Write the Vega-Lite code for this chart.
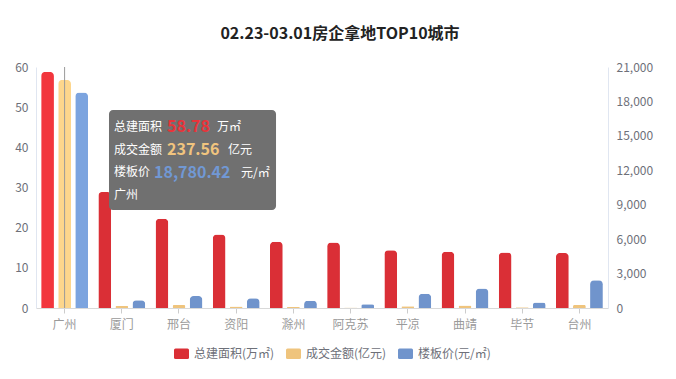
{
  "$schema": "https://vega.github.io/schema/vega-lite/v6.json",
  "width": 572,
  "height": 241,
  "autosize": {"type": "none"},
  "padding": {"left": 36, "top": 67, "right": 68, "bottom": 71},
  "background": "white",
  "title": {"text": "02.23-03.01房企拿地TOP10城市", "fontSize": 16, "fontWeight": "bold", "color": "#222222", "font": "Noto Sans CJK SC", "anchor": "middle", "dx": 18, "offset": 19},
  "config": {"view": {"stroke": null}, "font": "Noto Sans CJK SC"},
  "data": {"values": [
    {"city": "广州", "series": "总建面积(万㎡)", "value": 58.78},
    {"city": "厦门", "series": "总建面积(万㎡)", "value": 28.9},
    {"city": "邢台", "series": "总建面积(万㎡)", "value": 22.2},
    {"city": "资阳", "series": "总建面积(万㎡)", "value": 18.3},
    {"city": "滁州", "series": "总建面积(万㎡)", "value": 16.5},
    {"city": "阿克苏", "series": "总建面积(万㎡)", "value": 16.3},
    {"city": "平凉", "series": "总建面积(万㎡)", "value": 14.4},
    {"city": "曲靖", "series": "总建面积(万㎡)", "value": 14.0},
    {"city": "毕节", "series": "总建面积(万㎡)", "value": 13.8},
    {"city": "台州", "series": "总建面积(万㎡)", "value": 13.7},
    {"city": "广州", "series": "成交金额(亿元)", "value": 237.56},
    {"city": "厦门", "series": "成交金额(亿元)", "value": 2.2},
    {"city": "邢台", "series": "成交金额(亿元)", "value": 3.0},
    {"city": "资阳", "series": "成交金额(亿元)", "value": 1.6},
    {"city": "滁州", "series": "成交金额(亿元)", "value": 1.0},
    {"city": "阿克苏", "series": "成交金额(亿元)", "value": 0.5},
    {"city": "平凉", "series": "成交金额(亿元)", "value": 1.9},
    {"city": "曲靖", "series": "成交金额(亿元)", "value": 2.6},
    {"city": "毕节", "series": "成交金额(亿元)", "value": 0.7},
    {"city": "台州", "series": "成交金额(亿元)", "value": 3.0},
    {"city": "广州", "series": "楼板价(元/㎡)", "value": 18780.42},
    {"city": "厦门", "series": "楼板价(元/㎡)", "value": 670},
    {"city": "邢台", "series": "楼板价(元/㎡)", "value": 1045},
    {"city": "资阳", "series": "楼板价(元/㎡)", "value": 840},
    {"city": "滁州", "series": "楼板价(元/㎡)", "value": 640},
    {"city": "阿克苏", "series": "楼板价(元/㎡)", "value": 320},
    {"city": "平凉", "series": "楼板价(元/㎡)", "value": 1250},
    {"city": "曲靖", "series": "楼板价(元/㎡)", "value": 1710},
    {"city": "毕节", "series": "楼板价(元/㎡)", "value": 470},
    {"city": "台州", "series": "楼板价(元/㎡)", "value": 2410}
  ]},
  "resolve": {"scale": {"y": "independent"}},
  "layer": [
    {
      "transform": [{"filter": "datum.series === '总建面积(万㎡)'"}],
      "mark": {"type": "bar", "cornerRadiusTopLeft": 4, "cornerRadiusTopRight": 4},
      "encoding": {
        "x": {"field": "city", "type": "nominal", "sort": null,
          "scale": {"domain": ["广州", "厦门", "邢台", "资阳", "滁州", "阿克苏", "平凉", "曲靖", "毕节", "台州"], "paddingInner": 0.18, "paddingOuter": 0.09},
          "axis": {"title": null, "labelAngle": 0, "labelColor": "#9a9a9a", "labelFontSize": 12, "tickColor": "#cccccc", "tickSize": 5, "domainColor": "#d9d9d9", "labelPadding": 6}},
        "xOffset": {"field": "series", "type": "nominal", "scale": {"domain": ["总建面积(万㎡)", "成交金额(亿元)", "楼板价(元/㎡)"], "paddingInner": 0.25, "paddingOuter": 0}},
        "y": {"field": "value", "type": "quantitative", "scale": {"domain": [0, 60], "nice": false},
          "axis": {"orient": "left", "title": null, "values": [0, 10, 20, 30, 40, 50, 60], "grid": false, "ticks": false, "domain": true, "domainColor": "#e0e6f1", "labelColor": "#6e7079", "labelFontSize": 12, "labelPadding": 8}},
        "color": {"condition": {"test": "datum.city === '广州'", "value": "#f2363d"}, "field": "series", "type": "nominal",
          "scale": {"domain": ["总建面积(万㎡)", "成交金额(亿元)", "楼板价(元/㎡)"], "range": ["#da2f36", "#efc47d", "#7094cc"]},
          "legend": {"orient": "none", "legendX": 138, "legendY": 279, "direction": "horizontal", "title": null, "padding": 0,
            "symbolType": "M-0.8,-0.7 H0.8 Q1,-0.7 1,-0.5 V0.5 Q1,0.7 0.8,0.7 H-0.8 Q-1,0.7 -1,0.5 V-0.5 Q-1,-0.7 -0.8,-0.7 Z",
            "symbolSize": 225, "symbolStrokeWidth": 0, "labelColor": "#6e7079", "labelFontSize": 12, "labelOffset": 5, "columnPadding": 11}}
      }
    },
    {
      "transform": [{"filter": "datum.series === '成交金额(亿元)'"}],
      "mark": {"type": "bar", "cornerRadiusTopLeft": 4, "cornerRadiusTopRight": 4},
      "encoding": {
        "x": {"field": "city", "type": "nominal", "sort": null,
          "scale": {"domain": ["广州", "厦门", "邢台", "资阳", "滁州", "阿克苏", "平凉", "曲靖", "毕节", "台州"], "paddingInner": 0.18, "paddingOuter": 0.09},
          "axis": {"title": null, "labelAngle": 0, "labelColor": "#9a9a9a", "labelFontSize": 12, "tickColor": "#cccccc", "tickSize": 5, "domainColor": "#d9d9d9", "labelPadding": 6}},
        "xOffset": {"field": "series", "type": "nominal", "scale": {"domain": ["总建面积(万㎡)", "成交金额(亿元)", "楼板价(元/㎡)"], "paddingInner": 0.25, "paddingOuter": 0}},
        "y": {"field": "value", "type": "quantitative", "scale": {"domain": [0, 251], "nice": false}, "axis": null},
        "color": {"condition": {"test": "datum.city === '广州'", "value": "#fdd68c"}, "field": "series", "type": "nominal",
          "scale": {"domain": ["总建面积(万㎡)", "成交金额(亿元)", "楼板价(元/㎡)"], "range": ["#da2f36", "#efc47d", "#7094cc"]}}
      }
    },
    {
      "transform": [{"filter": "datum.series === '楼板价(元/㎡)'"}],
      "mark": {"type": "bar", "cornerRadiusTopLeft": 4, "cornerRadiusTopRight": 4},
      "encoding": {
        "x": {"field": "city", "type": "nominal", "sort": null,
          "scale": {"domain": ["广州", "厦门", "邢台", "资阳", "滁州", "阿克苏", "平凉", "曲靖", "毕节", "台州"], "paddingInner": 0.18, "paddingOuter": 0.09},
          "axis": {"title": null, "labelAngle": 0, "labelColor": "#9a9a9a", "labelFontSize": 12, "tickColor": "#cccccc", "tickSize": 5, "domainColor": "#d9d9d9", "labelPadding": 6}},
        "xOffset": {"field": "series", "type": "nominal", "scale": {"domain": ["总建面积(万㎡)", "成交金额(亿元)", "楼板价(元/㎡)"], "paddingInner": 0.25, "paddingOuter": 0}},
        "y": {"field": "value", "type": "quantitative", "scale": {"domain": [0, 21000], "nice": false},
          "axis": {"orient": "right", "title": null, "values": [0, 3000, 6000, 9000, 12000, 15000, 18000, 21000], "format": ",.0f", "grid": false, "ticks": false, "domain": true, "domainColor": "#e0e6f1", "labelColor": "#6e7079", "labelFontSize": 12, "labelPadding": 8}},
        "color": {"condition": {"test": "datum.city === '广州'", "value": "#7ca4df"}, "field": "series", "type": "nominal",
          "scale": {"domain": ["总建面积(万㎡)", "成交金额(亿元)", "楼板价(元/㎡)"], "range": ["#da2f36", "#efc47d", "#7094cc"]}}
      }
    },
    {
      "transform": [{"filter": "datum.city === '广州' && datum.series === '总建面积(万㎡)'"}],
      "mark": {"type": "rule", "color": "#9a9a9a", "strokeWidth": 1},
      "encoding": {"x": {"datum": "广州", "type": "nominal"}}
    },
    {
      "transform": [{"filter": "datum.city === '广州' && datum.series === '总建面积(万㎡)'"}],
      "mark": {"type": "rect", "color": "#707070", "cornerRadius": 4},
      "encoding": {
        "x": {"datum": "厦门", "type": "nominal", "bandPosition": 0.227},
        "x2": {"datum": "资阳", "bandPosition": 1.349},
        "y": {"datum": 49.3, "type": "quantitative", "scale": {"domain": [0, 60], "nice": false}, "axis": null},
        "y2": {"datum": 24.4}
      }
    },
    {
      "transform": [{"filter": "datum.city === '广州' && datum.series === '总建面积(万㎡)'"}],
      "mark": {"type": "text", "align": "left", "baseline": "middle", "lineBreak": "\n", "lineHeight": 22.5, "fontSize": 12, "color": "#ffffff"},
      "encoding": {
        "x": {"datum": "厦门", "type": "nominal", "bandPosition": 0.334},
        "y": {"datum": 44.94, "type": "quantitative", "scale": {"domain": [0, 60], "nice": false}, "axis": null},
        "text": {"value": "总建面积\n成交金额\n楼板价\n广州"}
      }
    },
    {
      "transform": [{"filter": "datum.city === '广州' && datum.series === '总建面积(万㎡)'"}],
      "mark": {"type": "text", "align": "left", "baseline": "middle", "fontSize": 16, "fontWeight": "bold", "color": "#e8343a", "dx": 53},
      "encoding": {
        "x": {"datum": "厦门", "type": "nominal", "bandPosition": 0.334},
        "y": {"datum": 44.94, "type": "quantitative", "scale": {"domain": [0, 60], "nice": false}, "axis": null},
        "text": {"field": "value", "type": "quantitative", "format": ".2f"}
      }
    },
    {
      "transform": [{"filter": "datum.city === '广州' && datum.series === '成交金额(亿元)'"}],
      "mark": {"type": "text", "align": "left", "baseline": "middle", "fontSize": 16, "fontWeight": "bold", "color": "#f0c47e", "dx": 53},
      "encoding": {
        "x": {"datum": "厦门", "type": "nominal", "bandPosition": 0.334},
        "y": {"datum": 39.34, "type": "quantitative", "scale": {"domain": [0, 60], "nice": false}, "axis": null},
        "text": {"field": "value", "type": "quantitative", "format": ".2f"}
      }
    },
    {
      "transform": [{"filter": "datum.city === '广州' && datum.series === '楼板价(元/㎡)'"}],
      "mark": {"type": "text", "align": "left", "baseline": "middle", "fontSize": 16, "fontWeight": "bold", "color": "#7198d4", "dx": 40},
      "encoding": {
        "x": {"datum": "厦门", "type": "nominal", "bandPosition": 0.334},
        "y": {"datum": 33.73, "type": "quantitative", "scale": {"domain": [0, 60], "nice": false}, "axis": null},
        "text": {"field": "value", "type": "quantitative", "format": ",.2f"}
      }
    },
    {
      "transform": [{"filter": "datum.city === '广州' && datum.series === '总建面积(万㎡)'"}],
      "mark": {"type": "text", "align": "left", "baseline": "middle", "fontSize": 12, "color": "#ffffff", "dx": 103},
      "encoding": {
        "x": {"datum": "厦门", "type": "nominal", "bandPosition": 0.334},
        "y": {"datum": 44.94, "type": "quantitative", "scale": {"domain": [0, 60], "nice": false}, "axis": null},
        "text": {"value": "万㎡"}
      }
    },
    {
      "transform": [{"filter": "datum.city === '广州' && datum.series === '总建面积(万㎡)'"}],
      "mark": {"type": "text", "align": "left", "baseline": "middle", "fontSize": 12, "color": "#ffffff", "dx": 114},
      "encoding": {
        "x": {"datum": "厦门", "type": "nominal", "bandPosition": 0.334},
        "y": {"datum": 39.34, "type": "quantitative", "scale": {"domain": [0, 60], "nice": false}, "axis": null},
        "text": {"value": "亿元"}
      }
    },
    {
      "transform": [{"filter": "datum.city === '广州' && datum.series === '总建面积(万㎡)'"}],
      "mark": {"type": "text", "align": "left", "baseline": "middle", "fontSize": 12, "color": "#ffffff", "dx": 127},
      "encoding": {
        "x": {"datum": "厦门", "type": "nominal", "bandPosition": 0.334},
        "y": {"datum": 33.73, "type": "quantitative", "scale": {"domain": [0, 60], "nice": false}, "axis": null},
        "text": {"value": "元/㎡"}
      }
    }
  ]
}
